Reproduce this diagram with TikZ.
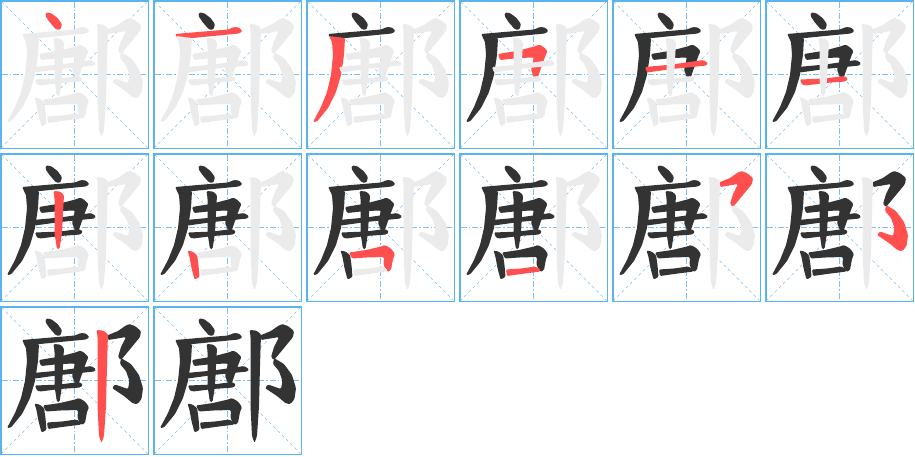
\documentclass[tikz,border=0pt]{standalone}
\definecolor{ink}{HTML}{333333}
\definecolor{cur}{HTML}{FF4F4F}
\definecolor{ghost}{HTML}{EBEBEB}
\definecolor{gridc}{HTML}{7CC0F0}
\definecolor{framec}{HTML}{5AB4F0}
\tikzset{
  strk/.style={fill=#1, rounded corners=1.2pt},
  centerline/.style={gridc, line width=0.7pt, dash pattern=on 6pt off 2pt on 1.5pt off 2pt},
  diagline/.style={gridc, line width=0.6pt, dash pattern=on 3pt off 3pt},
  framebox/.style={framec, line width=1.5pt}
}
\newcommand\kstrokei[1]{\fill[strk=#1] (46,12.5) -- (51,13) -- (57.5,18) -- (62,24) -- (60.5,29.5) -- (56,29.5) -- (49.5,22) -- (45.5,16) -- cycle;}
\newcommand\kstrokeii[1]{\fill[strk=#1] (22,34) -- (45,32) -- (75,29.5) -- (81,27) -- (86,27.5) -- (89.5,31) -- (86,33.5) -- (60,36) -- (35,38.5) -- (25,39) -- cycle;}
\newcommand\kstrokeiii[1]{\fill[strk=#1] (23,36) -- (39,38) -- (38,55) -- (35,75) -- (30,92) -- (22,108) -- (11,121.5) -- (7,122) -- (15,107) -- (21,92) -- (25,75) -- (27,55) -- (26,42) -- cycle;}
\newcommand\kstrokeiv[1]{\fill[strk=#1] (39,54) -- (60,50.5) -- (77,46) -- (80,44.5) -- (84,46.5) -- (88.5,51) -- (86.5,55.5) -- (82,68) -- (78.5,78) -- (75,77) -- (72,70) -- (75,57.5) -- (60,58) -- (41,60) -- cycle;}
\newcommand\kstrokev[1]{\fill[strk=#1] (33,67) -- (60,64.5) -- (88,60.5) -- (91,60) -- (96,63) -- (94.5,65.5) -- (60,69) -- (35,72.5) -- cycle;}
\newcommand\kstrokevi[1]{\fill[strk=#1] (35,79.5) -- (60,78.5) -- (79,76) -- (83,78.5) -- (80.5,81.5) -- (60,83) -- (40,85.5) -- (37,84.5) -- cycle;}
\newcommand\kstrokevii[1]{\fill[strk=#1] (53.5,38) -- (60,38.5) -- (64,42) -- (63,60) -- (62,80) -- (59.5,96) -- (57,96) -- (54.5,80) -- (54.5,60) -- (54.5,45) -- cycle;}
\newcommand\kstrokeviii[1]{\fill[strk=#1] (34.5,97.5) -- (39.5,98.5) -- (44,102) -- (45.5,112) -- (46.5,124) -- (41.5,126.5) -- (38.5,115) -- (36.5,104) -- cycle;}
\newcommand\kstrokeix[1]{\fill[strk=#1] (43,99.5) -- (60,97) -- (75,93.5) -- (79,92) -- (85,95.5) -- (89,101) -- (87,106) -- (85,117) -- (81.5,119) -- (77.5,112) -- (78,104) -- (60,104.5) -- (46,105.5) -- cycle;}
\newcommand\kstrokex[1]{\fill[strk=#1] (47,116.5) -- (62,115.5) -- (76,113.5) -- (80.5,115.5) -- (81.5,118.5) -- (62,121) -- (48,123) -- cycle;}
\newcommand\kstrokexi[1]{\fill[strk=#1] (107,29.5) -- (118,25) -- (125,20) -- (129,18) -- (135,20) -- (141,25) -- (140,31) -- (131,42) -- (121,54) -- (118,51) -- (121,41) -- (126,31) -- (120,32) -- (108,34) -- cycle;}
\newcommand\kstrokexii[1]{\fill[strk=#1] (121,52) -- (131,58) -- (139,69) -- (143,82) -- (141.5,93) -- (137.5,98) -- (133,97.5) -- (124,90) -- (112,82) -- (115,78.5) -- (128,83) -- (129.5,75) -- (126,65) -- (120,58) -- cycle;}
\newcommand\kstrokexiii[1]{\fill[strk=#1] (96.5,24) -- (103,24.5) -- (108,28) -- (107,60) -- (106,100) -- (104,130) -- (101.5,137) -- (99,130) -- (97.5,100) -- (97.5,60) -- (97.5,30) -- cycle;}
\begin{document}
\begin{tikzpicture}[x=1pt,y=-1pt]
\useasboundingbox (0,0) rectangle (915,456);
\foreach \p in {1,...,14}{
  \pgfmathtruncatemacro\col{mod(\p-1,6)}
  \pgfmathtruncatemacro\row{div(\p-1,6)}
  \begin{scope}[shift={(153*\col,153*\row)}]
    \draw[centerline] (74.5,1.5) -- (74.5,147.5);
    \draw[centerline] (1.5,74.5) -- (147.5,74.5);
    \draw[diagline] (1.5,1.5) -- (147.5,147.5);
    \draw[diagline] (147.5,1.5) -- (1.5,147.5);
    \foreach \s in {1,...,13}{
      \ifnum\s<\p \def\c{ink}\else\ifnum\s=\p \def\c{cur}\else\def\c{ghost}\fi\fi
      \csname kstroke\romannumeral\s\endcsname{\c}
    }
    \draw[framebox] (0.75,0.75) rectangle (148.25,148.25);
  \end{scope}
}
\end{tikzpicture}
\end{document}
